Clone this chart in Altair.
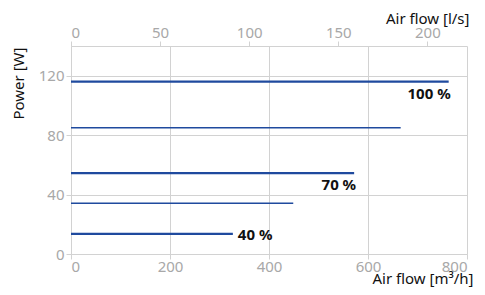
import altair as alt
import pandas as pd

# data
line_names = ["100 %", "line2", "70 %", "line4", "40 %"]
flow_start = [0, 0, 0, 0, 0]          # m3/h
flow_end = [763, 666, 572, 449, 327]  # m3/h
power = [116, 85, 54.5, 34.2, 13.6]   # W
thick = [True, False, True, False, True]

label_right = ["100 %", "70 %"]
label_left = ["40 %"]

x_ticks = [0, 200, 400, 600, 800]
x_top_ticks = [0, 50, 100, 150, 200]
y_ticks = [0, 40, 80, 120]

df = pd.DataFrame({
    "name": line_names,
    "x0": flow_start,
    "x1": flow_end,
    "p": power,
    "thick": thick,
})

FONT = "Noto Sans"
BLUE = "#1f4a9e"
AXIS_GRAY = "#a8a8a8"
GRID = "#d2d2d2"
FS = 15
W, H = 396, 208

xscale = alt.Scale(domain=[0, 800], nice=False)
yscale = alt.Scale(domain=[0, 140], nice=False)

x_axis = alt.Axis(
    values=x_ticks, title="Air flow [m³/h]", orient="bottom",
    grid=True, gridColor=GRID, domainColor=GRID, tickColor=GRID, tickSize=5,
    labelColor=AXIS_GRAY, labelFontSize=FS, labelFont=FONT, labelPadding=0,
    titleColor="#111", titleFontSize=FS, titleFont=FONT, titleFontWeight="normal",
    titleAlign="right", titleAnchor="end", titleX=W + 6, titleY=29.5, titleBaseline="alphabetic",
)
y_axis = alt.Axis(
    values=y_ticks, title="Power [W]",
    grid=True, gridColor=GRID, domainColor=GRID, tickColor=GRID, tickSize=5,
    labelColor=AXIS_GRAY, labelFontSize=FS, labelFont=FONT, labelPadding=2,
    titleColor="#111", titleFontSize=FS, titleFont=FONT, titleFontWeight="normal",
    titleAngle=-90, titleAlign="right", titleX=-53, titleY=1, titleBaseline="middle",
)

base = alt.Chart(df)
X = alt.X("x0:Q", scale=xscale, axis=x_axis)
Y = alt.Y("p:Q", scale=yscale, axis=y_axis)

thick_lines = base.transform_filter("datum.thick").mark_rule(color=BLUE, strokeWidth=2.3).encode(
    x=X, x2="x1:Q", y=Y,
)
thin_lines = base.transform_filter("!datum.thick").mark_rule(color=BLUE, strokeWidth=1.5).encode(
    x=X, x2="x1:Q", y=Y,
)

txt_r = base.transform_filter(alt.FieldOneOfPredicate(field="name", oneOf=label_right)).mark_text(
    align="right", baseline="middle", dx=2, dy=12, font=FONT, fontSize=FS, fontWeight="bold", color="#111"
).encode(x=alt.X("x1:Q", scale=xscale, axis=x_axis), y=Y, text="name:N")

txt_l = base.transform_filter(alt.FieldOneOfPredicate(field="name", oneOf=label_left)).mark_text(
    align="left", baseline="middle", dx=5, dy=1, font=FONT, fontSize=FS, fontWeight="bold", color="#111"
).encode(x=alt.X("x1:Q", scale=xscale, axis=x_axis), y=Y, text="name:N")

main = alt.layer(thin_lines, thick_lines, txt_r, txt_l)

top_axis = alt.Axis(
    values=x_top_ticks, title="Air flow [l/s]", orient="top",
    grid=False, domainColor=GRID, tickColor=GRID, tickSize=5,
    labelColor=AXIS_GRAY, labelFontSize=FS, labelFont=FONT, labelPadding=1,
    titleColor="#111", titleFontSize=FS, titleFont=FONT, titleFontWeight="normal",
    titleAlign="right", titleAnchor="end", titleX=W + 2, titleY=-23, titleBaseline="alphabetic",
)
top_layer = base.transform_calculate(ls="datum.x1 / 3.6").mark_rule(opacity=0).encode(
    x=alt.X("ls:Q", scale=alt.Scale(domain=[0, 800 / 3.6], nice=False), axis=top_axis),
    y=Y,
)

chart = alt.layer(main, top_layer).resolve_scale(
    x="independent"
).properties(
    width=W, height=H,
    autosize=alt.AutoSizeParams(type="none"),
    padding={"left": 63, "top": 38, "right": 10, "bottom": 33},
).configure_view(stroke=None)

chart.save("out.html", embed_options={"renderer": "svg", "actions": False})
